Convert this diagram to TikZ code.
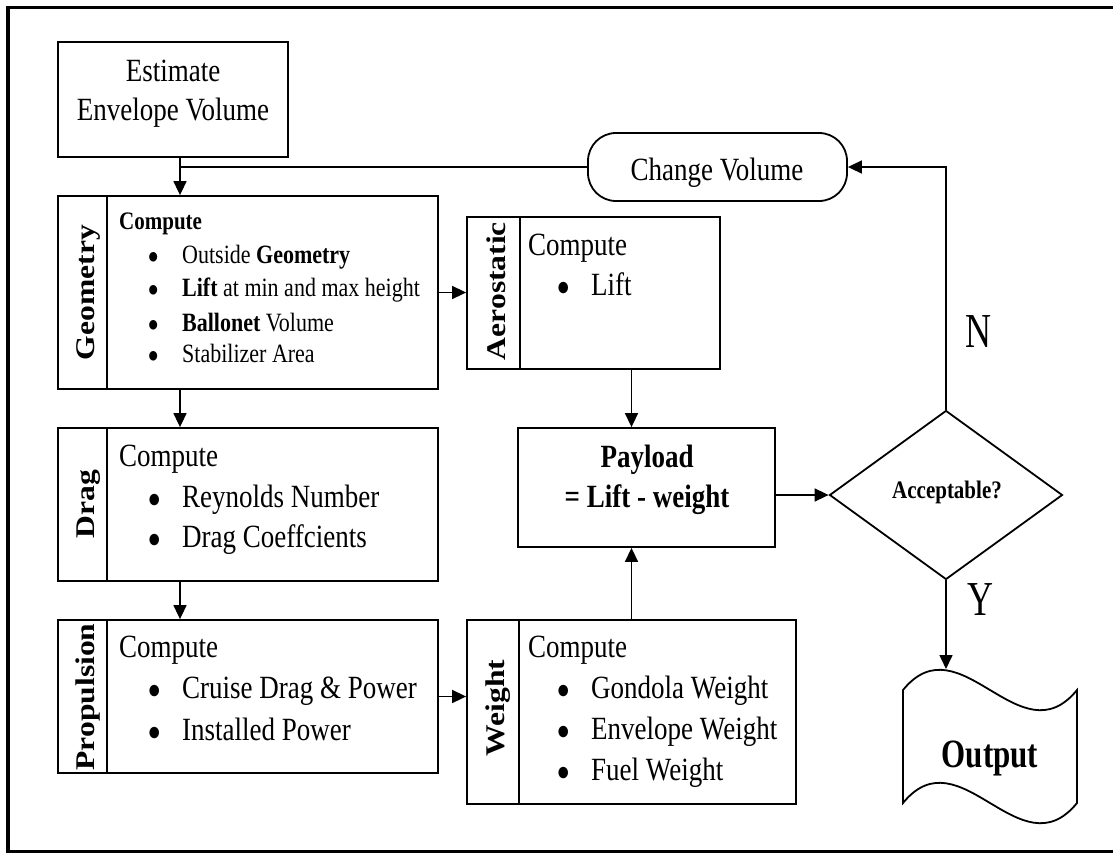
\documentclass[tikz,border=0pt]{standalone}
\usepackage{fontspec}
\setmainfont{Liberation Serif}
\usetikzlibrary{arrows.meta,calc,positioning,shapes.geometric}

\newcommand{\itemdot}{\makebox[34pt][l]{$\bullet$}}

\begin{document}
\begin{tikzpicture}[x=1pt,y=-1pt,
ln/.style={line width=1.8pt},
box/.style={draw,ln,inner sep=0pt},
lbl/.style={font=\fontsize{27}{32}\selectfont\bfseries,inner sep=0pt,anchor=base,yscale=1.17,rotate=90},
txt/.style={font=\fontsize{27}{32}\selectfont,inner sep=0pt,anchor=base west,yscale=1.2},
sml/.style={font=\fontsize{22}{26}\selectfont,inner sep=0pt,anchor=base west,yscale=1.2},
arr/.style={line width=1.6pt,-{Triangle[length=14pt,width=13pt]}}]
\useasboundingbox (0,0) rectangle (1113,854);
\draw[line width=3.5pt] (1113,7.5) -- (8,7.5) -- (8,851.5) -- (1113,851.5);
\coordinate (jn) at (180,0);
% start
\node[box,minimum width=230pt,minimum height=115pt] (est) at (173,99.5) {};
\node[txt,anchor=base] (est1) at (173,81) {Estimate};
\node[txt,anchor=base] (est2) at (173,120) {Envelope Volume};
% geometry
\node[box,minimum width=380pt,minimum height=193pt] (geo) at (248,292.5) {};
\draw[ln] ([xshift=50pt]geo.north west) -- ([xshift=50pt]geo.south west);
\node[lbl] (geoL) at (94,292.5) {Geometry};
\node[sml,font=\fontsize{21}{25}\selectfont\bfseries] (geo0) at (119,229) {Compute};
\node[sml] (geo1) at (148,263) {\itemdot Outside \textbf{Geometry}};
\node[sml] (geo2) at (148,296) {\itemdot \textbf{Lift} at min and max height};
\node[sml] (geo3) at (148,331) {\itemdot \textbf{Ballonet} Volume};
\node[sml] (geo4) at (148,362) {\itemdot Stabilizer Area};
% drag
\node[box,minimum width=380pt,minimum height=153pt] (drg) at (248,504.5) {};
\draw[ln] ([xshift=50pt]drg.north west) -- ([xshift=50pt]drg.south west);
\node[lbl] (drgL) at (94,504) {Drag};
\node[txt] (drg0) at (119,466) {Compute};
\node[txt] (drg1) at (148,507) {\itemdot Reynolds Number};
\node[txt] (drg2) at (148,547) {\itemdot Drag Coeffcients};
% propulsion
\node[box,minimum width=380pt,minimum height=153pt] (prp) at (248,696.5) {};
\draw[ln] ([xshift=50pt]prp.north west) -- ([xshift=50pt]prp.south west);
\node[lbl] (prpL) at (94,697) {Propulsion};
\node[txt] (prp0) at (119,657) {Compute};
\node[txt] (prp1) at (148,698) {\itemdot Cruise Drag \& Power};
\node[txt] (prp2) at (148,740) {\itemdot Installed Power};
% aerostatic
\node[box,minimum width=253pt,minimum height=152pt] (aer) at (593.5,293) {};
\draw[ln] ([xshift=54pt]aer.north west) -- ([xshift=54pt]aer.south west);
\node[lbl] (aerL) at (505,291) {Aerostatic};
\node[txt] (aer0) at (528,255) {Compute};
\node[txt] (aer1) at (557,295) {\itemdot Lift};
% payload
\node[box,minimum width=257pt,minimum height=119pt] (pay) at (646.5,487.5) {};
\node[txt,font=\fontsize{27}{32}\selectfont\bfseries,anchor=base] (pay1) at (647,467) {Payload};
\node[txt,font=\fontsize{27}{32}\selectfont\bfseries,anchor=base] (pay2) at (647,507) {= Lift - weight};
% weight
\node[box,minimum width=329pt,minimum height=184pt] (wgt) at (631.5,712) {};
\draw[ln] ([xshift=53pt]wgt.north west) -- ([xshift=53pt]wgt.south west);
\node[lbl] (wgtL) at (504,708) {Weight};
\node[txt] (wgt0) at (528,657) {Compute};
\node[txt] (wgt1) at (557,698) {\itemdot Gondola Weight};
\node[txt] (wgt2) at (557,739) {\itemdot Envelope Weight};
\node[txt] (wgt3) at (557,780) {\itemdot Fuel Weight};
% loop back
\node[box,rounded corners=28pt,minimum width=259pt,minimum height=68pt] (chg) at (717.5,167) {};
\node[txt,anchor=base] (chgT) at (717,180) {Change Volume};
\node[box,diamond,minimum width=233pt,minimum height=169pt] (dec) at (946,495) {};
\node[txt,font=\fontsize{21}{25}\selectfont\bfseries,anchor=base] (decT) at (947,498) {Acceptable?};
\node[txt,font=\fontsize{36}{40}\selectfont,anchor=base,yscale=1.13] (nLbl) at (978,347) {N};
\node[txt,font=\fontsize{36}{40}\selectfont,anchor=base,yscale=1.13] (yLbl) at (980,615) {Y};
% output
\draw[ln] (903,690) .. controls (960,620) and (1020,760) .. (1077,690) -- (1077,803)
  .. controls (1020,873) and (960,733) .. (903,803) -- cycle;
\node[txt,font=\fontsize{31}{36}\selectfont\bfseries,anchor=base,yscale=1.08] (out) at (990,767) {Output};
\coordinate (outT) at (946,669);
% arrows
\draw[arr] (est.south -| jn) -- (geo.north -| jn);
\draw[ln] (chg.west) -- (chg.west -| jn);
\draw[arr] (geo.east) -- (geo.east -| aer.west);
\draw[arr] (geo.south -| jn) -- (drg.north -| jn);
\draw[arr] (drg.south -| jn) -- (prp.north -| jn);
\draw[arr] (prp.east) -- (prp.east -| wgt.west);
\draw[arr] (aer.south -| wgt.north) -- (pay.north -| wgt.north);
\draw[arr] (wgt.north) -- (pay.south -| wgt.north);
\draw[arr] (pay.east |- dec.west) -- (dec.west);
\draw[arr] (dec.north) |- (chg.east);
\draw[arr] (dec.south) -- (outT);
\end{tikzpicture}
\end{document}
